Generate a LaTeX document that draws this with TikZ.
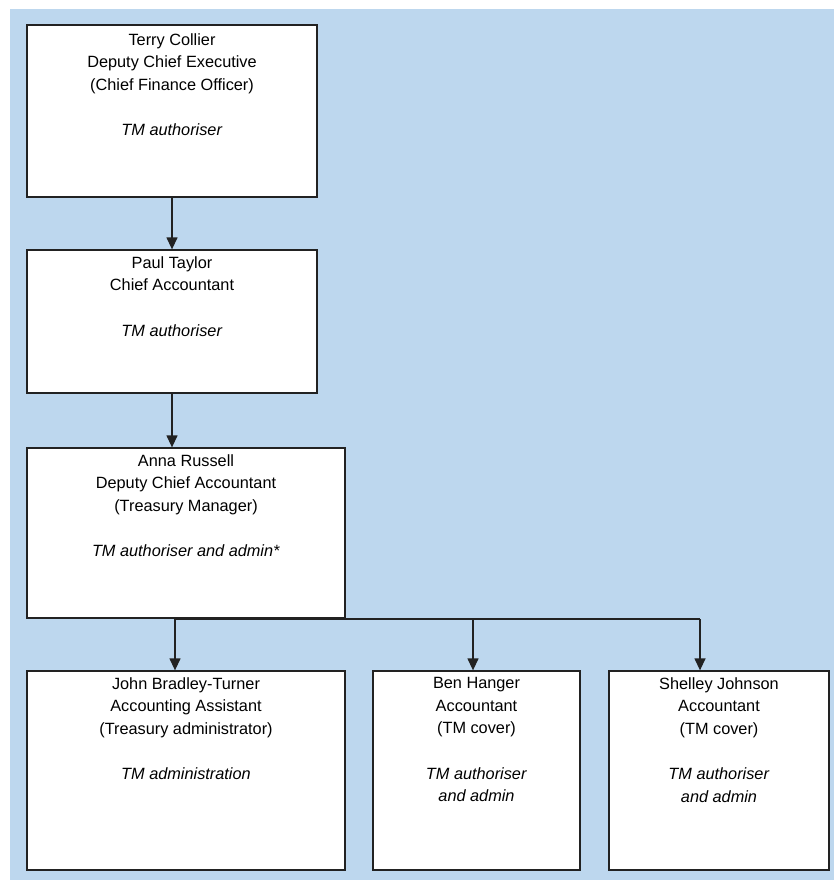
\documentclass[tikz,border=0pt]{standalone}
\usepackage{fontspec}
\setmainfont{Liberation Sans}
\usetikzlibrary{arrows.meta}
\definecolor{bgblue}{HTML}{BDD7EE}
\definecolor{edge}{HTML}{222222}
\tikzset{
  box/.style={draw=edge, line width=1.3pt, fill=white, rectangle, inner sep=0pt},
  txt/.style={anchor=north, align=center, inner sep=0pt, text=black,
              font=\fontsize{16.3}{22.7}\selectfont},
  conn/.style={draw=edge, line width=1.3pt},
  arr/.style={conn, -{Triangle[width=11pt,length=12pt]}}
}
\begin{document}
\begin{tikzpicture}[x=1pt,y=-1pt]
\useasboundingbox (0,0) rectangle (834,880);
\fill[white] (0,0) rectangle (834,880);
\fill[bgblue] (10,9) rectangle (834,880);

\node[box, minimum width=290pt, minimum height=172pt] (b1) at (172,111) {};
\node[box, minimum width=290pt, minimum height=143pt] (b2) at (172,321.5) {};
\node[box, minimum width=318pt, minimum height=170pt] (b3) at (186,533) {};
\node[box, minimum width=318pt, minimum height=199pt] (b4) at (186,770.5) {};
\node[box, minimum width=207pt, minimum height=199pt] (b5) at (476.5,770.5) {};
\node[box, minimum width=220pt, minimum height=199pt] (b6) at (719,770.5) {};

\node[txt] (t1) at (172,33) {Terry Collier\\Deputy Chief Executive\\(Chief Finance Officer)\\[22.7pt]\textit{TM authoriser}};
\node[txt] (t2) at (172,256) {Paul Taylor\\Chief Accountant\\[22.7pt]\textit{TM authoriser}};
\node[txt] (t3) at (186,454) {Anna Russell\\Deputy Chief Accountant\\(Treasury Manager)\\[22.7pt]\textit{TM authoriser and admin*}};
\node[txt] (t4) at (186,677) {John Bradley-Turner\\Accounting Assistant\\(Treasury administrator)\\[22.7pt]\textit{TM administration}};
\node[txt] (t5) at (476.5,677) {Ben Hanger\\Accountant\\(TM cover)\\[22.7pt]\textit{TM authoriser}\\\textit{and admin}};
\node[txt] (t6) at (719,677) {Shelley Johnson\\Accountant\\(TM cover)\\[22.7pt]\textit{TM authoriser}\\\textit{and admin}};

\coordinate (j0) at (175,619);
\coordinate (j1) at (473,619);
\coordinate (j2) at (700,619);

\draw[arr] (b1.south) -- (b2.north);
\draw[arr] (b2.south) -- (b2.south |- b3.north);
\draw[conn] (j0) -- (j2);
\draw[arr] (j0) -- (j0 |- b4.north);
\draw[arr] (j1) -- (j1 |- b5.north);
\draw[arr] (j2) -- (j2 |- b6.north);
\end{tikzpicture}
\end{document}
